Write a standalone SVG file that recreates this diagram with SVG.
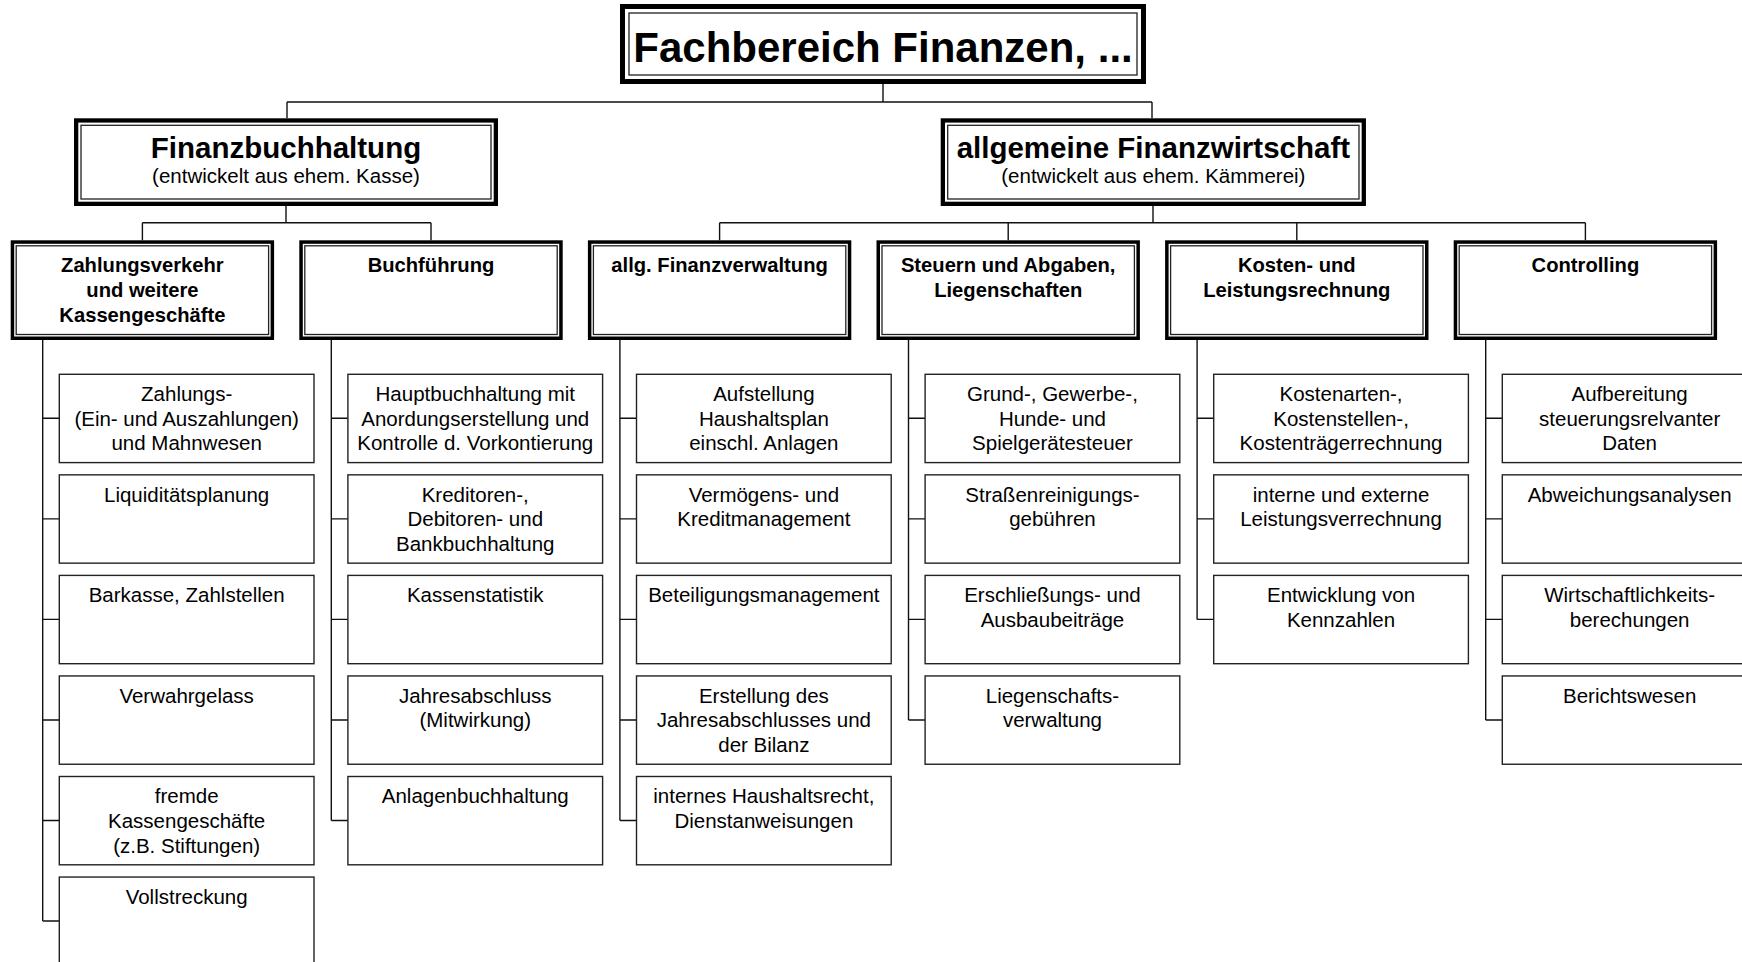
<svg xmlns="http://www.w3.org/2000/svg" width="1742" height="962" viewBox="0 0 1742 962">
<style>
text{font-family:"Liberation Sans",Arial,sans-serif;fill:#000;text-anchor:middle}
.t0{font-size:42px;font-weight:bold}
.t1{font-size:29.5px;font-weight:bold}
.s1{font-size:20.5px}
.t2{font-size:20.2px;font-weight:bold}
.lf{font-size:20.5px}
.o0{fill:#fff;stroke:#000;stroke-width:5}
.o1{fill:#fff;stroke:#000;stroke-width:4.3}
.o2{fill:#fff;stroke:#000;stroke-width:3.5}
.in{fill:none;stroke:#222;stroke-width:1.3}
.leaf{fill:#fff;stroke:#222;stroke-width:1.4}
.con{fill:none;stroke:#111;stroke-width:1.4}
</style>
<rect width="1742" height="962" fill="#fff"/>
<g id="connectors" class="con">
<path d="M883 84V102M287 102H1152M287 102V118.3M1152 102V118.3"/>
<path d="M286 206V222.7M142.4 222.7H431M142.4 222.7V240.3M431 222.7V240.3"/>
<path d="M1153 206V222.7M719.6 222.7H1585.4M719.6 222.7V240.3M1008.2 222.7V240.3M1296.8 222.7V240.3M1585.4 222.7V240.3"/>
<path d="M42.7 340V921.05M42.7 418.3H59.3M42.7 518.85H59.3M42.7 619.4H59.3M42.7 719.95H59.3M42.7 820.5H59.3M42.7 921.05H59.3"/>
<path d="M331.3 340V820.5M331.3 418.3H347.9M331.3 518.85H347.9M331.3 619.4H347.9M331.3 719.95H347.9M331.3 820.5H347.9"/>
<path d="M619.9 340V820.5M619.9 418.3H636.5M619.9 518.85H636.5M619.9 619.4H636.5M619.9 719.95H636.5M619.9 820.5H636.5"/>
<path d="M908.5 340V719.95M908.5 418.3H925.1M908.5 518.85H925.1M908.5 619.4H925.1M908.5 719.95H925.1"/>
<path d="M1197.1 340V619.4M1197.1 418.3H1213.7M1197.1 518.85H1213.7M1197.1 619.4H1213.7"/>
<path d="M1485.7 340V719.95M1485.7 418.3H1502.3M1485.7 518.85H1502.3M1485.7 619.4H1502.3M1485.7 719.95H1502.3"/>
</g>
<g id="n-top">
<rect class="o0" x="622.5" y="6.5" width="521" height="75"/>
<rect class="in" x="629" y="13" width="508" height="62"/>
<text class="t0" x="883" y="62">Fachbereich Finanzen, ...</text>
</g>
<g id="n-fibu">
<rect class="o1" x="76.15" y="120.45" width="419.7" height="83.4"/>
<rect class="in" x="81" y="125.3" width="410" height="73.7"/>
<text class="t1" x="286" y="158.3">Finanzbuchhaltung</text>
<text class="s1" x="286" y="182.7">(entwickelt aus ehem. Kasse)</text>
</g>
<g id="n-afw">
<rect class="o1" x="942.85" y="120.45" width="420.95" height="83.4"/>
<rect class="in" x="947.7" y="125.3" width="411.3" height="73.7"/>
<text class="t1" x="1153.35" y="158.3">allgemeine Finanzwirtschaft</text>
<text class="s1" x="1153.35" y="182.7">(entwickelt aus ehem. Kämmerei)</text>
</g>
<g id="n-zv">
<rect class="o2" x="12.45" y="242.05" width="259.9" height="96.2"/>
<rect class="in" x="16.2" y="245.8" width="252.4" height="88.7"/>
<text class="t2" x="142.4" y="271.7">Zahlungsverkehr</text>
<text class="t2" x="142.4" y="296.7">und weitere</text>
<text class="t2" x="142.4" y="321.7">Kassengeschäfte</text>
</g>
<g id="n-bf">
<rect class="o2" x="301.05" y="242.05" width="259.9" height="96.2"/>
<rect class="in" x="304.8" y="245.8" width="252.4" height="88.7"/>
<text class="t2" x="431" y="271.7">Buchführung</text>
</g>
<g id="n-fv">
<rect class="o2" x="589.65" y="242.05" width="259.9" height="96.2"/>
<rect class="in" x="593.4" y="245.8" width="252.4" height="88.7"/>
<text class="t2" x="719.6" y="271.7">allg. Finanzverwaltung</text>
</g>
<g id="n-st">
<rect class="o2" x="878.25" y="242.05" width="259.9" height="96.2"/>
<rect class="in" x="882" y="245.8" width="252.4" height="88.7"/>
<text class="t2" x="1008.2" y="271.7">Steuern und Abgaben,</text>
<text class="t2" x="1008.2" y="296.7">Liegenschaften</text>
</g>
<g id="n-kl">
<rect class="o2" x="1166.85" y="242.05" width="259.9" height="96.2"/>
<rect class="in" x="1170.6" y="245.8" width="252.4" height="88.7"/>
<text class="t2" x="1296.8" y="271.7">Kosten- und</text>
<text class="t2" x="1296.8" y="296.7">Leistungsrechnung</text>
</g>
<g id="n-co">
<rect class="o2" x="1455.45" y="242.05" width="259.9" height="96.2"/>
<rect class="in" x="1459.2" y="245.8" width="252.4" height="88.7"/>
<text class="t2" x="1585.4" y="271.7">Controlling</text>
</g>
<!-- column 0 -->
<g id="l0-1"><rect class="leaf" x="59.3" y="374.3" width="254.7" height="88.3"/>
<text class="lf" x="186.65" y="401"><tspan x="186.65">Zahlungs-</tspan><tspan x="186.65" dy="24.7">(Ein- und Auszahlungen)</tspan><tspan x="186.65" dy="24.7">und Mahnwesen</tspan></text></g>
<g id="l0-2"><rect class="leaf" x="59.3" y="474.85" width="254.7" height="88.3"/>
<text class="lf" x="186.65" y="501.55">Liquiditätsplanung</text></g>
<g id="l0-3"><rect class="leaf" x="59.3" y="575.4" width="254.7" height="88.3"/>
<text class="lf" x="186.65" y="602.1">Barkasse, Zahlstellen</text></g>
<g id="l0-4"><rect class="leaf" x="59.3" y="675.95" width="254.7" height="88.3"/>
<text class="lf" x="186.65" y="702.65">Verwahrgelass</text></g>
<g id="l0-5"><rect class="leaf" x="59.3" y="776.5" width="254.7" height="88.3"/>
<text class="lf" x="186.65" y="803.2"><tspan x="186.65">fremde</tspan><tspan x="186.65" dy="24.7">Kassengeschäfte</tspan><tspan x="186.65" dy="24.7">(z.B. Stiftungen)</tspan></text></g>
<g id="l0-6"><rect class="leaf" x="59.3" y="877.05" width="254.7" height="88.3"/>
<text class="lf" x="186.65" y="903.75">Vollstreckung</text></g>
<!-- column 1 -->
<g id="l1-1"><rect class="leaf" x="347.9" y="374.3" width="254.7" height="88.3"/>
<text class="lf" x="475.25" y="401"><tspan x="475.25">Hauptbuchhaltung mit</tspan><tspan x="475.25" dy="24.7">Anordungserstellung und</tspan><tspan x="475.25" dy="24.7">Kontrolle d. Vorkontierung</tspan></text></g>
<g id="l1-2"><rect class="leaf" x="347.9" y="474.85" width="254.7" height="88.3"/>
<text class="lf" x="475.25" y="501.55"><tspan x="475.25">Kreditoren-,</tspan><tspan x="475.25" dy="24.7">Debitoren- und</tspan><tspan x="475.25" dy="24.7">Bankbuchhaltung</tspan></text></g>
<g id="l1-3"><rect class="leaf" x="347.9" y="575.4" width="254.7" height="88.3"/>
<text class="lf" x="475.25" y="602.1">Kassenstatistik</text></g>
<g id="l1-4"><rect class="leaf" x="347.9" y="675.95" width="254.7" height="88.3"/>
<text class="lf" x="475.25" y="702.65"><tspan x="475.25">Jahresabschluss</tspan><tspan x="475.25" dy="24.7">(Mitwirkung)</tspan></text></g>
<g id="l1-5"><rect class="leaf" x="347.9" y="776.5" width="254.7" height="88.3"/>
<text class="lf" x="475.25" y="803.2">Anlagenbuchhaltung</text></g>
<!-- column 2 -->
<g id="l2-1"><rect class="leaf" x="636.5" y="374.3" width="254.7" height="88.3"/>
<text class="lf" x="763.85" y="401"><tspan x="763.85">Aufstellung</tspan><tspan x="763.85" dy="24.7">Haushaltsplan</tspan><tspan x="763.85" dy="24.7">einschl. Anlagen</tspan></text></g>
<g id="l2-2"><rect class="leaf" x="636.5" y="474.85" width="254.7" height="88.3"/>
<text class="lf" x="763.85" y="501.55"><tspan x="763.85">Vermögens- und</tspan><tspan x="763.85" dy="24.7">Kreditmanagement</tspan></text></g>
<g id="l2-3"><rect class="leaf" x="636.5" y="575.4" width="254.7" height="88.3"/>
<text class="lf" x="763.85" y="602.1">Beteiligungsmanagement</text></g>
<g id="l2-4"><rect class="leaf" x="636.5" y="675.95" width="254.7" height="88.3"/>
<text class="lf" x="763.85" y="702.65"><tspan x="763.85">Erstellung des</tspan><tspan x="763.85" dy="24.7">Jahresabschlusses und</tspan><tspan x="763.85" dy="24.7">der Bilanz</tspan></text></g>
<g id="l2-5"><rect class="leaf" x="636.5" y="776.5" width="254.7" height="88.3"/>
<text class="lf" x="763.85" y="803.2"><tspan x="763.85">internes Haushaltsrecht,</tspan><tspan x="763.85" dy="24.7">Dienstanweisungen</tspan></text></g>
<!-- column 3 -->
<g id="l3-1"><rect class="leaf" x="925.1" y="374.3" width="254.7" height="88.3"/>
<text class="lf" x="1052.45" y="401"><tspan x="1052.45">Grund-, Gewerbe-,</tspan><tspan x="1052.45" dy="24.7">Hunde- und</tspan><tspan x="1052.45" dy="24.7">Spielgerätesteuer</tspan></text></g>
<g id="l3-2"><rect class="leaf" x="925.1" y="474.85" width="254.7" height="88.3"/>
<text class="lf" x="1052.45" y="501.55"><tspan x="1052.45">Straßenreinigungs-</tspan><tspan x="1052.45" dy="24.7">gebühren</tspan></text></g>
<g id="l3-3"><rect class="leaf" x="925.1" y="575.4" width="254.7" height="88.3"/>
<text class="lf" x="1052.45" y="602.1"><tspan x="1052.45">Erschließungs- und</tspan><tspan x="1052.45" dy="24.7">Ausbaubeiträge</tspan></text></g>
<g id="l3-4"><rect class="leaf" x="925.1" y="675.95" width="254.7" height="88.3"/>
<text class="lf" x="1052.45" y="702.65"><tspan x="1052.45">Liegenschafts-</tspan><tspan x="1052.45" dy="24.7">verwaltung</tspan></text></g>
<!-- column 4 -->
<g id="l4-1"><rect class="leaf" x="1213.7" y="374.3" width="254.7" height="88.3"/>
<text class="lf" x="1341.05" y="401"><tspan x="1341.05">Kostenarten-,</tspan><tspan x="1341.05" dy="24.7">Kostenstellen-,</tspan><tspan x="1341.05" dy="24.7">Kostenträgerrechnung</tspan></text></g>
<g id="l4-2"><rect class="leaf" x="1213.7" y="474.85" width="254.7" height="88.3"/>
<text class="lf" x="1341.05" y="501.55"><tspan x="1341.05">interne und externe</tspan><tspan x="1341.05" dy="24.7">Leistungsverrechnung</tspan></text></g>
<g id="l4-3"><rect class="leaf" x="1213.7" y="575.4" width="254.7" height="88.3"/>
<text class="lf" x="1341.05" y="602.1"><tspan x="1341.05">Entwicklung von</tspan><tspan x="1341.05" dy="24.7">Kennzahlen</tspan></text></g>
<!-- column 5 -->
<g id="l5-1"><rect class="leaf" x="1502.3" y="374.3" width="254.7" height="88.3"/>
<text class="lf" x="1629.65" y="401"><tspan x="1629.65">Aufbereitung</tspan><tspan x="1629.65" dy="24.7">steuerungsrelvanter</tspan><tspan x="1629.65" dy="24.7">Daten</tspan></text></g>
<g id="l5-2"><rect class="leaf" x="1502.3" y="474.85" width="254.7" height="88.3"/>
<text class="lf" x="1629.65" y="501.55">Abweichungsanalysen</text></g>
<g id="l5-3"><rect class="leaf" x="1502.3" y="575.4" width="254.7" height="88.3"/>
<text class="lf" x="1629.65" y="602.1"><tspan x="1629.65">Wirtschaftlichkeits-</tspan><tspan x="1629.65" dy="24.7">berechungen</tspan></text></g>
<g id="l5-4"><rect class="leaf" x="1502.3" y="675.95" width="254.7" height="88.3"/>
<text class="lf" x="1629.65" y="702.65">Berichtswesen</text></g>
</svg>
